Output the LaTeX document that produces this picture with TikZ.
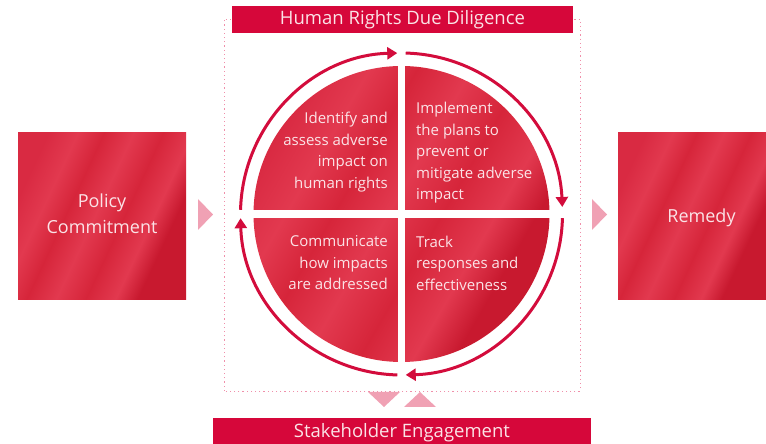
\documentclass[tikz,border=0pt]{standalone}
\usepackage{fontspec}
\setmainfont{Open Sans}
\usetikzlibrary{arrows.meta}
\definecolor{crim}{HTML}{D6073A}
\definecolor{arr}{HTML}{D30C3C}
\definecolor{pinktri}{HTML}{F0A1B4}
\definecolor{dotc}{HTML}{F08FAA}
\definecolor{txt}{HTML}{FBE3E7}
\definecolor{rA}{HTML}{D92A42}
\definecolor{rB}{HTML}{E2394F}
\definecolor{rC}{HTML}{D6253A}
\definecolor{rD}{HTML}{C8192F}
\pgfdeclarehorizontalshading{streaks}{100bp}{color(0bp)=(rA); color(25bp)=(rA); color(33bp)=(rB); color(40bp)=(rC); color(48bp)=(rB); color(56bp)=(rC); color(64bp)=(rB); color(70bp)=(rD); color(75bp)=(rD); color(100bp)=(rD)}
\tikzset{
  redbox/.style={shading=streaks, shading angle=-25},
  bandbox/.style={fill=crim},
  bandtext/.style={text=txt, font=\fontsize{18.5}{20}\selectfont},
  boxtext/.style={text=txt, font=\fontsize{18}{26}\selectfont, align=center},
  qtext/.style={text=txt, font=\fontsize{15}{21.5}\selectfont, inner sep=0pt},
  pinkarrow/.style={fill=pinktri},
  cyc/.style={draw=arr, line width=3pt, -{Triangle[length=10pt,width=12pt]}},
}
\begin{document}
\begin{tikzpicture}[x=1pt,y=1pt]
\useasboundingbox (0,0) rectangle (766,444);
% dotted frame
\draw[dotc, line width=0.8pt, dash pattern=on 1.2pt off 3pt] (224,53) rectangle (580,425);
% title band
\fill[bandbox] (232,411) rectangle (573,438);
\node[bandtext] (title) at (402.5,424) {Human Rights Due Diligence};
% bottom band
\fill[bandbox] (213,0) rectangle (591,26);
\node[bandtext] (stake) at (402,11.5) {Stakeholder Engagement};
% side boxes
\shade[redbox] (18,144) rectangle (186,311);
\node[boxtext] (policy) at (102,230) {Policy\\Commitment};
\shade[redbox] (618,144) rectangle (766,311);
\node[boxtext] (remedy) at (701.5,226) {Remedy};
% pink triangles
\fill[pinkarrow] (198,245) -- (198,214) -- (213,229.5) -- cycle;
\fill[pinkarrow] (592,245) -- (592,214) -- (607,229.5) -- cycle;
\fill[pinkarrow] (368,52) -- (400,52) -- (384,37) -- cycle;
\fill[pinkarrow] (404,37) -- (436,37) -- (420,52) -- cycle;
% pie
\coordinate (c) at (401.5,230);
\shade[shading=streaks, shading angle=-30] (c) circle (148);
\draw[white, line width=7.5pt] ([xshift=-150pt]c) -- ([xshift=150pt]c);
\draw[white, line width=7pt] ([yshift=-150pt]c) -- ([yshift=150pt]c);
% cycle arrows
\draw[cyc] ([shift={(178.5:161)}]c) arc[start angle=178.5, end angle=91.5, radius=161];
\draw[cyc] ([shift={(88.5:161)}]c) arc[start angle=88.5, end angle=2.5, radius=161];
\draw[cyc] ([shift={(-1.5:161)}]c) arc[start angle=-1.5, end angle=-88.5, radius=161];
\draw[cyc] ([shift={(-91.5:161)}]c) arc[start angle=-91.5, end angle=-178.5, radius=161];
% quadrant texts
\node[qtext, anchor=east, align=right] (q1) at (388,292) {Identify and\\assess adverse\\impact on\\human rights};
\node[qtext, anchor=west, align=left] (q2) at (416,291) {Implement\\the plans to\\prevent or\\mitigate adverse\\impact};
\node[qtext, anchor=east, align=right] (q3) at (388,181) {Communicate\\how impacts\\are addressed};
\node[qtext, anchor=west, align=left] (q4) at (416,181) {Track\\responses and\\effectiveness};
\end{tikzpicture}
\end{document}
